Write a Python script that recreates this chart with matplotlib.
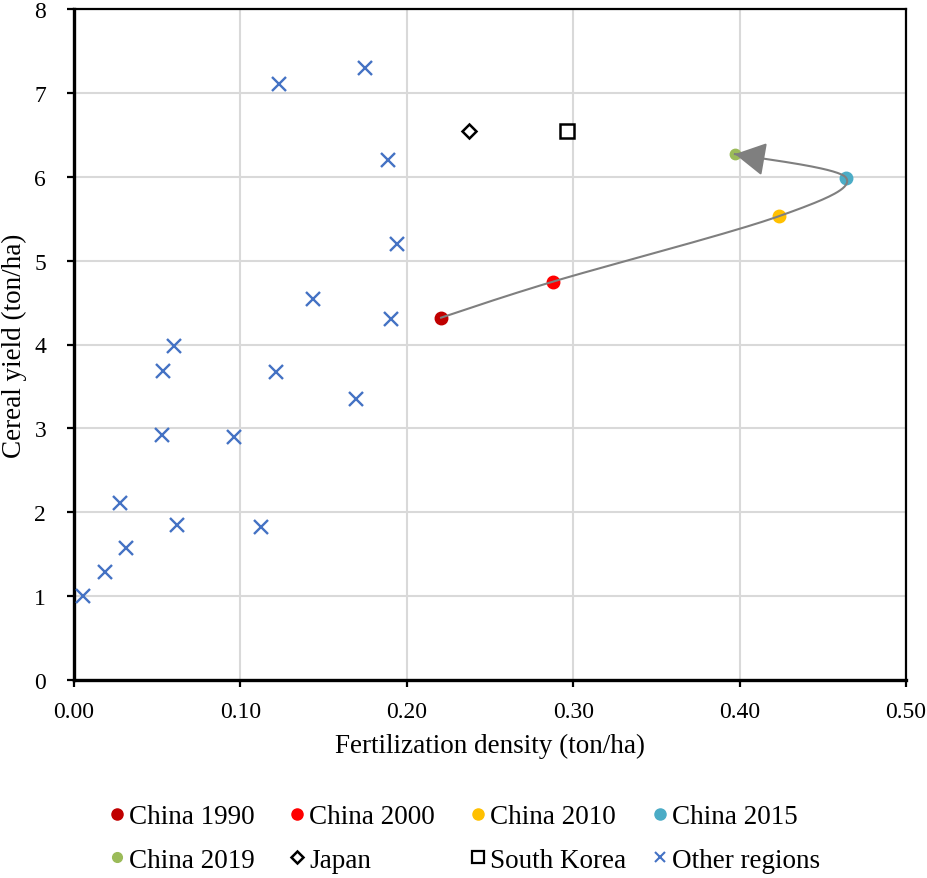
import numpy as np
import matplotlib
matplotlib.use('Agg')
import matplotlib.pyplot as plt
from matplotlib.lines import Line2D

plt.rcParams['font.family'] = ['Liberation Serif', 'DejaVu Serif']

# China trajectory
china_years = ['1990', '2000', '2010', '2015', '2019']
china_x = [0.2206, 0.2879, 0.4237, 0.4639, 0.3972]
china_y = [4.32, 4.75, 5.53, 5.99, 6.27]
china_colors = ['#C00000', '#FF0000', '#FFC000', '#4BACC6', '#9BBB59']

japan_x, japan_y = [0.2374], [6.55]
korea_x, korea_y = [0.2963], [6.55]

# other regions
other_x = [0.1749, 0.1232, 0.1887, 0.1941, 0.1436, 0.1905, 0.0601, 0.0535, 0.1214,
           0.1695, 0.0529, 0.0962, 0.0276, 0.0619, 0.1124, 0.0312, 0.0186, 0.0054]
other_y = [7.30, 7.11, 6.20, 5.20, 4.54, 4.30, 3.98, 3.68, 3.67,
           3.35, 2.92, 2.90, 2.11, 1.85, 1.82, 1.57, 1.29, 1.00]

x_ticks = [0.0, 0.1, 0.2, 0.3, 0.4, 0.5]
y_ticks = list(range(0, 9))

W, H = 927, 879
fig = plt.figure(figsize=(W / 100, H / 100), dpi=100)
ax = fig.add_axes([74 / W, 1 - 681 / H, 832 / W, 671 / H])

ax.set_xlim(0, 0.5)
ax.set_ylim(0, 8)
ax.set_xticks(x_ticks)
ax.set_yticks(y_ticks)
ax.set_xticklabels(['%.2f' % v for v in x_ticks])
ax.grid(True, color='#D9D9D9', lw=1.5)
ax.set_axisbelow(True)
for s in ['left', 'bottom']:
    ax.spines[s].set_linewidth(2.4)
for s in ['top', 'right']:
    ax.spines[s].set_linewidth(1.6)
ax.tick_params(axis='both', direction='out', length=5, width=1.6, labelsize=17)
ax.tick_params(axis='y', pad=15)
ax.tick_params(axis='x', pad=10)
ax.set_xlabel('Fertilization density (ton/ha)', fontsize=19.5, labelpad=8)
ax.set_ylabel('Cereal yield (ton/ha)', fontsize=19.5)
ax.yaxis.set_label_coords(-0.056, 0.5)

# smoothed connecting line (Excel-like Catmull-Rom), computed in pixel space
sx, sy = 1664.0, 83.875
P = np.column_stack([np.array(china_x) * sx, np.array(china_y) * sy])
Pe = np.vstack([P[0], P, P[-1]])
curve = []
t = np.linspace(0, 1, 40)[:, None]
for i in range(len(P) - 1):
    p0, p1, p2, p3 = Pe[i], Pe[i + 1], Pe[i + 2], Pe[i + 3]
    c1 = p1 + (p2 - p0) / 6
    c2 = p2 - (p3 - p1) / 6
    seg = (1 - t) ** 3 * p1 + 3 * (1 - t) ** 2 * t * c1 + 3 * (1 - t) * t ** 2 * c2 + t ** 3 * p2
    curve.append(seg if i == 0 else seg[1:])
curve = np.vstack(curve)
cx, cy = curve[:, 0] / sx, curve[:, 1] / sy

ax.plot(other_x, other_y, 'x', color='#4472C4', ms=9.5, mew=1.7, zorder=3)
ax.plot(japan_x, japan_y, 'D', mfc='white', mec='black', ms=7.5, mew=1.8, zorder=3)
ax.plot(korea_x, korea_y, 's', mfc='white', mec='black', ms=9.5, mew=1.8, zorder=3)
for xv, yv, c, yr in zip(china_x, china_y, china_colors, china_years):
    ms = 7.5 if yr == '2019' else 9
    ax.plot([xv], [yv], 'o', color=c, ms=ms, zorder=3)

ax.plot(cx, cy, color='#7F7F7F', lw=1.5, zorder=4)
ax.annotate('', xy=(cx[-1], cy[-1]), xytext=(cx[-6], cy[-6]),
            arrowprops=dict(arrowstyle='-|>,head_length=1.0,head_width=0.55',
                            mutation_scale=19, color='#7F7F7F', lw=1.5,
                            shrinkA=0, shrinkB=0), zorder=5)

# legend, one column at a time to match the spacing
def h_dot(c, ms=8):
    return Line2D([], [], ls='none', marker='o', color=c, ms=ms)

cols = [
    ([h_dot(china_colors[0]), h_dot(china_colors[4], 7)], ['China 1990', 'China 2019'], 117),
    ([h_dot(china_colors[1]),
      Line2D([], [], ls='none', marker='D', mfc='white', mec='black', ms=6.5, mew=1.8)],
     ['China 2000', 'Japan'], 297),
    ([h_dot(china_colors[2]),
      Line2D([], [], ls='none', marker='s', mfc='white', mec='black', ms=8, mew=1.6)],
     ['China 2010', 'South Korea'], 478),
    ([h_dot(china_colors[3]),
      Line2D([], [], ls='none', marker='x', color='#4472C4', ms=7, mew=1.5)],
     ['China 2015', 'Other regions'], 660),
]
fs = 19.5
hl = 0.5
for handles, labels, xc in cols:
    x_left = xc - hl * fs * 100 / 72 / 2
    fig.legend(handles, labels, loc='upper left', bbox_to_anchor=(x_left / W, 1 - 805 / H),
               frameon=False, fontsize=fs, handlelength=hl, handletextpad=0.2,
               borderpad=0, borderaxespad=0, labelspacing=0.7)

fig.savefig('out.png', dpi=100)
